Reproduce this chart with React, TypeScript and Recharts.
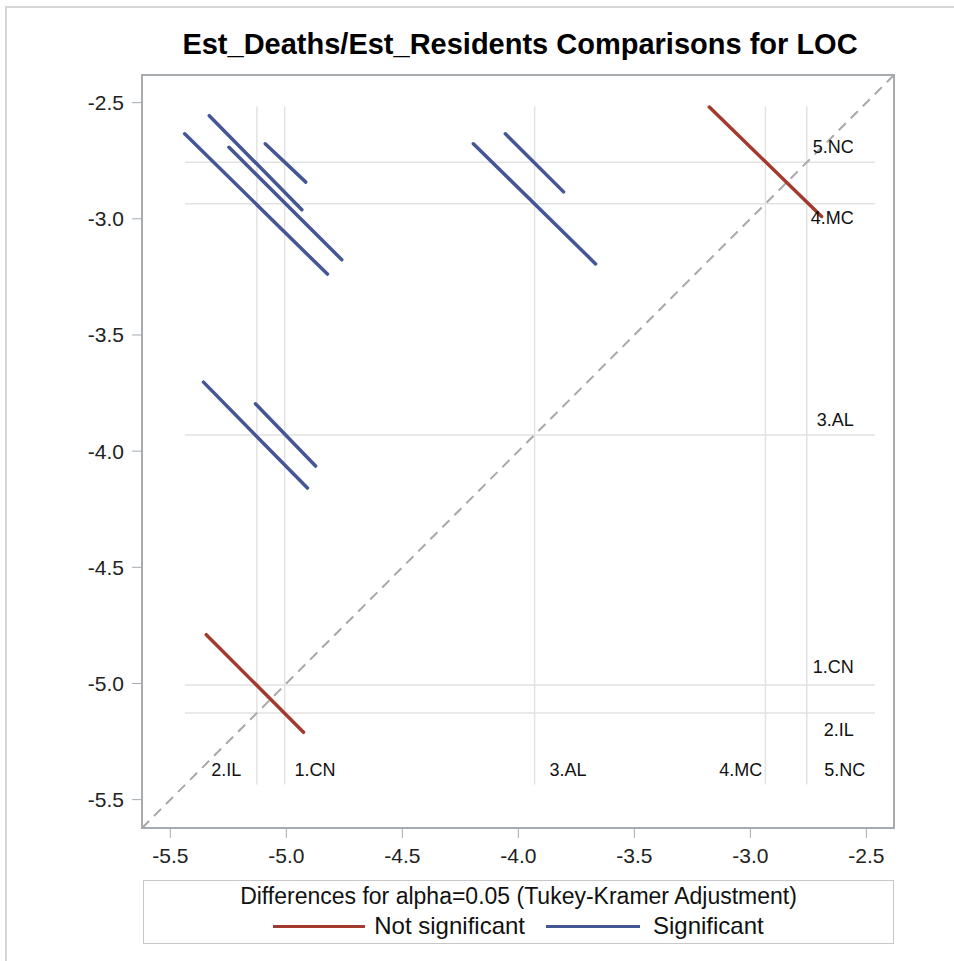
import { ComposedChart, Scatter, XAxis, YAxis, ReferenceLine, ReferenceArea } from 'recharts'

// LS means of LOC levels (same value on both axes)
const levels = ['1.CN', '2.IL', '3.AL', '4.MC', '5.NC']
const means = [-5.007, -5.127, -3.93, -2.935, -2.757]

// diffogram segments: pair, end points, significant?
const segments = [
  { pair: '2.IL-5.NC', x1: -5.332, y1: -2.556, x2: -4.933, y2: -2.961, sig: true },
  { pair: '2.IL-4.MC', x1: -5.438, y1: -2.634, x2: -4.823, y2: -3.238, sig: true },
  { pair: '1.CN-4.MC', x1: -5.247, y1: -2.692, x2: -4.761, y2: -3.176, sig: true },
  { pair: '1.CN-5.NC', x1: -5.091, y1: -2.677, x2: -4.916, y2: -2.842, sig: true },
  { pair: '3.AL-4.MC', x1: -4.194, y1: -2.677, x2: -3.667, y2: -3.194, sig: true },
  { pair: '3.AL-5.NC', x1: -4.056, y1: -2.634, x2: -3.805, y2: -2.884, sig: true },
  { pair: '2.IL-3.AL', x1: -5.357, y1: -3.703, x2: -4.909, y2: -4.159, sig: true },
  { pair: '1.CN-3.AL', x1: -5.133, y1: -3.796, x2: -4.874, y2: -4.064, sig: true },
  { pair: '4.MC-5.NC', x1: -3.177, y1: -2.519, x2: -2.693, y2: -2.99, sig: false },
  { pair: '2.IL-1.CN', x1: -5.345, y1: -4.79, x2: -4.926, y2: -5.21, sig: false },
]

const bottomLabels = [
  { name: '2.IL', x: -5.259, y: -5.371 },
  { name: '1.CN', x: -4.876, y: -5.371 },
  { name: '3.AL', x: -3.786, y: -5.371 },
  { name: '4.MC', x: -3.041, y: -5.371 },
  { name: '5.NC', x: -2.593, y: -5.371 },
]
const rightLabels = [
  { name: '5.NC', x: -2.554, y: -2.69 },
  { name: '4.MC', x: -2.554, y: -2.996 },
  { name: '3.AL', x: -2.554, y: -3.865 },
  { name: '1.CN', x: -2.554, y: -4.928 },
  { name: '2.IL', x: -2.554, y: -5.199 },
]

const ticks = [-5.5, -5.0, -4.5, -4.0, -3.5, -3.0, -2.5]
const domain: [number, number] = [-5.622, -2.381]
const refX: [number, number] = [-5.437, -2.463]
const refY: [number, number] = [-5.435, -2.517]

const RED = '#a23a2e'
const BLUE = '#445694'
const FONT = '"Liberation Sans", Arial, sans-serif'

const labelShape = (anchor: string) => (p: any) => (
  <text x={p.cx} y={p.cy} textAnchor={anchor} dominantBaseline="central" fontSize={18} fill="#111" fontFamily={FONT}>
    {p.payload.name}
  </text>
)

export default function App() {
  return (
    <div style={{ position: 'absolute', left: 0, top: 0, width: 954, height: 961, background: '#fff', fontFamily: FONT }}>
      <div style={{ position: 'absolute', left: 5, top: 6, right: 0, bottom: 0, borderTop: '2px solid #d6d6d6', borderLeft: '2px solid #d6d6d6' }} />
      <div style={{ position: 'absolute', left: 120, width: 800, top: 28, textAlign: 'center', fontWeight: 'bold', fontSize: 29, color: '#000' }}>
        Est_Deaths/Est_Residents Comparisons for LOC
      </div>
      <div style={{ position: 'absolute', left: 0, top: 0 }}>
        <ComposedChart width={954} height={961} margin={{ top: 75, right: 60, bottom: 93, left: 82 }}>
          <XAxis
            dataKey="x"
            type="number"
            domain={domain}
            ticks={ticks}
            allowDataOverflow
            tickFormatter={(v: number) => v.toFixed(1)}
            height={40}
            tickSize={10}
            tickMargin={10}
            stroke="#a6abb0"
            tick={{ fill: '#222', fontSize: 21, fontFamily: FONT }}
          />
          <YAxis
            dataKey="y"
            type="number"
            domain={domain}
            ticks={ticks}
            allowDataOverflow
            tickFormatter={(v: number) => v.toFixed(1)}
            width={60}
            tickSize={10}
            tickMargin={8}
            stroke="#a6abb0"
            tick={{ fill: '#222', fontSize: 21, fontFamily: FONT }}
          />
          <ReferenceArea x1={domain[0]} x2={domain[1]} y1={domain[0]} y2={domain[1]} fill="none" stroke="#a6abb0" strokeWidth={2} />
          {means.map((m, i) => (
            <ReferenceLine key={'v' + levels[i]} segment={[{ x: m, y: refY[0] }, { x: m, y: refY[1] }]} stroke="#e2e2e2" strokeWidth={1.5} />
          ))}
          {means.map((m, i) => (
            <ReferenceLine key={'h' + levels[i]} segment={[{ x: refX[0], y: m }, { x: refX[1], y: m }]} stroke="#e2e2e2" strokeWidth={1.5} />
          ))}
          <ReferenceLine
            segment={[{ x: domain[0], y: domain[0] }, { x: domain[1], y: domain[1] }]}
            stroke="#a8a8a8"
            strokeWidth={2}
            strokeDasharray="10 7"
          />
          {segments.map((s) => (
            <Scatter
              key={s.pair}
              name={s.pair}
              data={[{ x: s.x1, y: s.y1 }, { x: s.x2, y: s.y2 }]}
              fill={s.sig ? BLUE : RED}
              line={{ stroke: s.sig ? BLUE : RED, strokeWidth: 3.5, strokeLinecap: 'round' }}
              shape={() => <g />}
              isAnimationActive={false}
            />
          ))}
          <Scatter name="bottom" data={bottomLabels} shape={labelShape('middle')} isAnimationActive={false} />
          <Scatter name="right" data={rightLabels} shape={labelShape('end')} isAnimationActive={false} />
        </ComposedChart>
      </div>
      <div
        style={{
          position: 'absolute',
          left: 143,
          top: 880,
          width: 749,
          height: 62,
          border: '1px solid #c8c8c8',
          fontSize: 23,
          lineHeight: '28px',
          color: '#111',
          textAlign: 'center',
        }}
      >
        <div style={{ marginTop: 1 }}>Differences for alpha=0.05 (Tukey-Kramer Adjustment)</div>
        <div style={{ display: 'flex', justifyContent: 'center', alignItems: 'center', marginTop: 2, fontSize: 24 }}>
          <span style={{ display: 'inline-block', width: 92, height: 3, background: RED, marginRight: 9 }} />
          <span>Not significant</span>
          <span style={{ display: 'inline-block', width: 94, height: 3, background: BLUE, marginLeft: 21, marginRight: 13 }} />
          <span>Significant</span>
        </div>
      </div>
    </div>
  )
}
